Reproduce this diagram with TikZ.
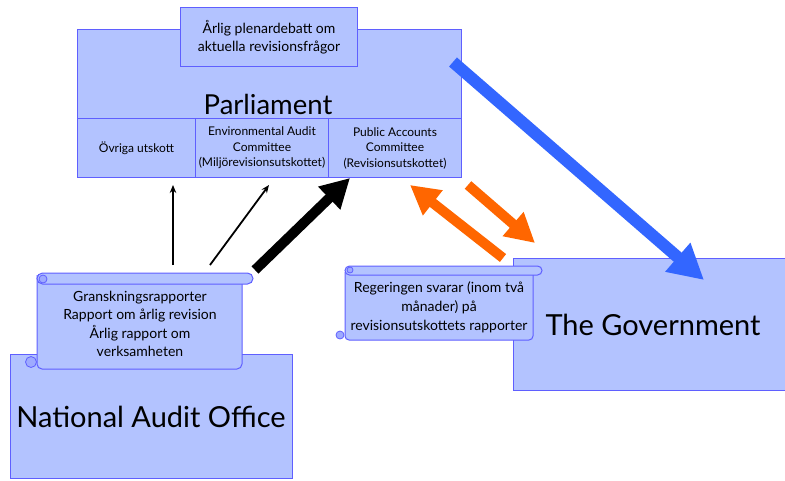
\documentclass[tikz,border=0pt]{standalone}
\usepackage{fontspec}
\setmainfont{Lato}
\usetikzlibrary{arrows.meta}
\definecolor{boxfill}{RGB}{179,195,255}
\definecolor{boxline}{RGB}{95,95,255}
\definecolor{bluearr}{RGB}{51,102,255}
\definecolor{orangearr}{RGB}{255,102,0}
\tikzset{
  box/.style={draw=boxline, fill=boxfill, line width=1pt, inner sep=0pt},
  small/.style={font=\fontsize{12}{15.5}\selectfont, align=center},
  mid/.style={font=\fontsize{14}{18.5}\selectfont, align=center},
  curl/.style={draw=boxline, fill=boxfill!75!boxline, line width=0.8pt},
  thinarr/.style={-{Stealth[length=8pt,width=6.5pt]}, line width=1.8pt},
  fatarr/.style={line width=#1, -{Triangle[length=2.9*#1,width=3*#1]}},
}
\begin{document}
\begin{tikzpicture}[x=1pt,y=-1pt]
\useasboundingbox (0,0) rectangle (785,480);
% Parliament
\node[box, minimum width=384pt, minimum height=148pt, anchor=north west] (parl) at (77,29) {};
\node[box, minimum width=177pt, minimum height=59pt, anchor=north west, mid] (top) at (180,7) {Årlig plenardebatt om\\aktuella revisionsfrågor};
\node[font=\fontsize{27.5}{30}\selectfont] (parltxt) at (268,104) {Parliament};
\node[box, minimum width=118pt, minimum height=59pt, anchor=north west, small] (c1) at (77,118) {Övriga utskott};
\node[box, minimum width=133pt, minimum height=59pt, anchor=north west, small] (c2) at (195,118) {Environmental Audit\\Committee\\(Miljörevisionsutskottet)};
\node[box, minimum width=133pt, minimum height=59pt, anchor=north west, small] (c3) at (328,118) {Public Accounts\\Committee\\(Revisionsutskottet)};
% National Audit Office
\node[box, minimum width=282pt, minimum height=124pt, anchor=north west] (nao) at (10,354) {};
\node[font=\fontsize{29}{32}\selectfont] (naotxt) at (151,417) {National Audit Office};
% Government
\node[box, minimum width=272pt, minimum height=132pt, anchor=north west] (gov) at (513,258) {};
\node[font=\fontsize{29}{32}\selectfont] (govtxt) at (653,325) {The Government};
% Scroll 1
\draw[box, rounded corners=5pt] (37,275) -- (37,369) -- (242,369) -- (242,275);
\draw[box, rounded corners=5.5pt] (37,273) rectangle (253,284);
\draw[curl] (43,279) circle (4pt);
\draw[curl] (31,362) circle (5.5pt);
\node[mid] (s1) at (140,324) {Granskningsrapporter\\Rapport om årlig revision\\Årlig rapport om\\verksamheten};
% Scroll 2
\draw[box, rounded corners=4pt] (345,272) -- (345,340) -- (533,340) -- (533,272);
\draw[box, rounded corners=4.5pt] (345,266) rectangle (542,275);
\draw[curl] (350,270) circle (3pt);
\draw[curl] (340,335) circle (4pt);
\node[mid, font=\fontsize{14}{19}\selectfont] (s2) at (439,307) {Regeringen svarar (inom två\\månader) på\\revisionsutskottets rapporter};
% arrow end points
\coordinate (a1s) at (173,265); \coordinate (a1e) at (173,185);
\coordinate (a2s) at (210,265); \coordinate (a2e) at (269,185);
\coordinate (a3s) at (255,270); \coordinate (a3e) at (350,178);
\coordinate (o1s) at (503,258); \coordinate (o1e) at (410,185);
\coordinate (o2s) at (468,185); \coordinate (o2e) at (535,243);
\coordinate (bs) at (453,62);  \coordinate (be) at (704,280);
\draw[thinarr] (a1s) -- (a1e);
\draw[thinarr] (a2s) -- (a2e);
\draw[fatarr=10pt, black] (a3s) -- (a3e);
\draw[fatarr=10pt, draw=orangearr, fill=orangearr] (o1s) -- (o1e);
\draw[fatarr=10pt, draw=orangearr, fill=orangearr] (o2s) -- (o2e);
\draw[fatarr=12pt, draw=bluearr, fill=bluearr] (bs) -- (be);
\end{tikzpicture}
\end{document}
